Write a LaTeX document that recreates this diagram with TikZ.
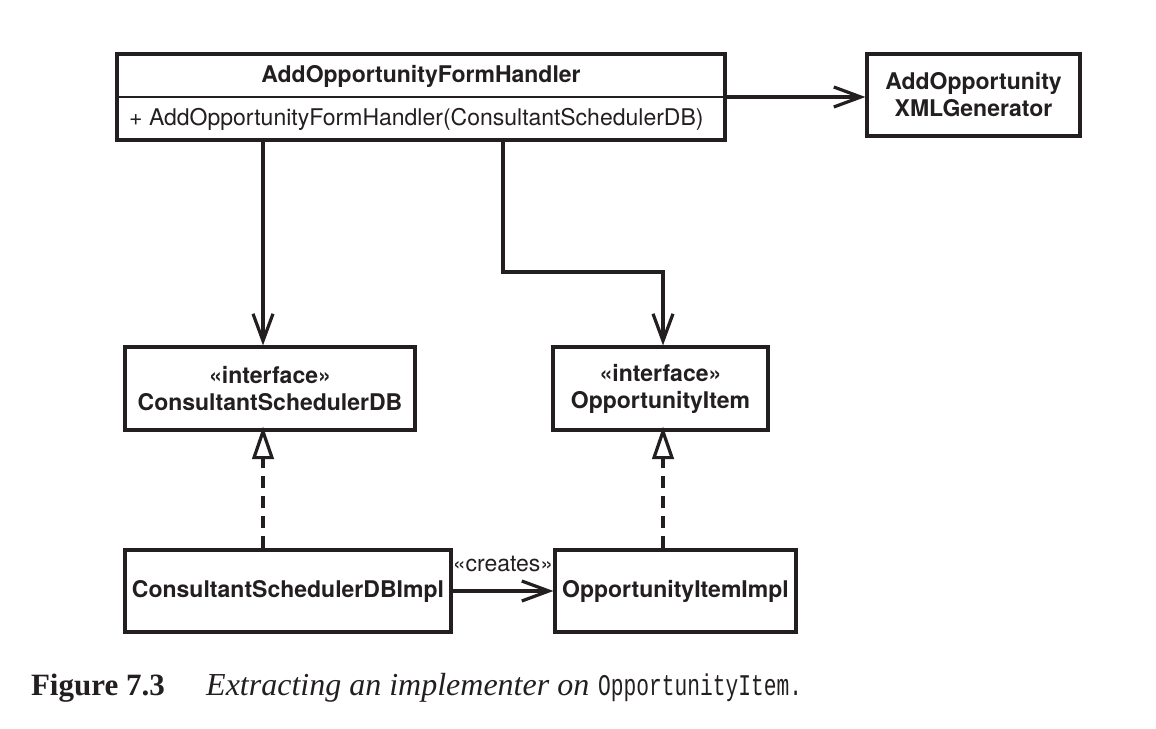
\documentclass[tikz,border=0pt]{standalone}
\usepackage{fontspec}
\setmainfont{TeX Gyre Heros}
\newfontfamily\capserif{Liberation Serif}
\newfontfamily\capmono{Liberation Mono}
\usetikzlibrary{arrows.meta}
\definecolor{ink}{RGB}{35,31,32}
\begin{document}
\begin{tikzpicture}[x=1pt,y=-1pt,
  cls/.style={draw=ink, line width=3.2pt, rectangle, inner sep=0pt, text=ink,
    font=\fontsize{23}{27}\selectfont\bfseries, align=center},
  plain/.style={inner sep=0pt, text=ink, font=\fontsize{23}{27}\selectfont},
  assoc/.style={draw=ink, line width=3.2pt,
    -{Straight Barb[length=27pt, width=20pt, line width=3.2pt]}},
  real/.style={draw=ink, line width=3.2pt, dash pattern=on 12pt off 8pt},
  realtip/.style={draw=ink, fill=white, line width=3.2pt, line join=miter},
  capfont/.style={inner sep=0pt, text=ink, font=\capserif\fontsize{32}{36}\selectfont}
]
\useasboundingbox (0,0) rectangle (1156,728);

% classes
\node[cls, minimum width=608pt, minimum height=86pt] (handler) at (421,97) {};
\draw[draw=ink, line width=2.2pt] (handler.west) -- (handler.east);
\node[plain, font=\fontsize{23}{27}\selectfont\bfseries] (htitle) at (421,76) {AddOpportunityFormHandler};
\node[plain, anchor=west] (hmeth) at (129,119) {+ AddOpportunityFormHandler(ConsultantSchedulerDB)};

\node[cls, minimum width=213pt, minimum height=82pt] (xml) at (973.5,95) {AddOpportunity\\XMLGenerator};

\node[cls, minimum width=290pt, minimum height=83pt] (csdb) at (270,388.5) {«interface»\\ConsultantSchedulerDB};
\node[cls, minimum width=215pt, minimum height=83pt] (oi) at (660.5,388.5) {«interface»\\OpportunityItem};

\node[cls, minimum width=326pt, minimum height=82pt] (csdbimpl) at (288,591) {ConsultantSchedulerDBImpl};
\node[cls, minimum width=241pt, minimum height=82pt] (oiimpl) at (675.5,591) {OpportunityItemImpl};

% associations
\draw[assoc] (handler.east) -- (handler.east -| xml.west);

\coordinate (h1) at (263,140);
\draw[assoc] (h1) -- (h1 |- csdb.north);

\coordinate (h2) at (503,140);
\coordinate (bend) at (663,272);
\draw[assoc] (h2) |- (bend) -- (bend |- oi.north);

% realizations (dashed line + hollow triangle)
\coordinate (r1) at (263,0);
\coordinate (t1) at (r1 |- csdb.south);
\draw[real] (r1 |- csdbimpl.north) -- ([yshift=-26pt]t1);
\draw[realtip] (t1) -- ++(-9,26) -- ++(18,0) -- cycle;

\coordinate (r2) at (663,0);
\coordinate (t2) at (r2 |- oi.south);
\draw[real] (r2 |- oiimpl.north) -- ([yshift=-26pt]t2);
\draw[realtip] (t2) -- ++(-9,26) -- ++(18,0) -- cycle;

\draw[assoc] (csdbimpl.east) -- (oiimpl.west)
  node[plain, midway, yshift=27pt] (creates) {«creates»};

% caption
\node[capfont, anchor=base east, font=\capserif\fontsize{31}{36}\selectfont\bfseries] (fig) at (165,695) {Figure 7.3};
\node[capfont, anchor=base west, font=\capserif\fontsize{32}{36}\selectfont\itshape] (cap) at (206,695) {Extracting an implementer on};
\node[capfont, anchor=base west] (capm) at (598,695) {\resizebox{204pt}{\height}{\capmono\fontsize{30}{36}\selectfont OpportunityItem.}};
\end{tikzpicture}
\end{document}
